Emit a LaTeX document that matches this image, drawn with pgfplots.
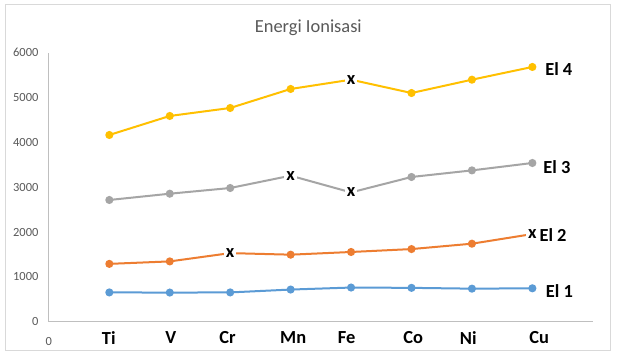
\documentclass[border=0pt]{standalone}
\usepackage{pgfplots}
\pgfplotsset{compat=1.18}
\usepackage{fontspec}
\setmainfont{Carlito}
\definecolor{c1}{HTML}{5B9BD5}
\definecolor{c2}{HTML}{ED7D31}
\definecolor{c3}{HTML}{A5A5A5}
\definecolor{c4}{HTML}{FFC000}
\definecolor{txtgray}{HTML}{595959}
\definecolor{axgray}{HTML}{BFBFBF}
\definecolor{bordergray}{HTML}{D9D9D9}
\newcommand{\bigbf}{\bfseries\fontsize{18.5}{22}\selectfont}
\begin{document}
\begin{tikzpicture}
\useasboundingbox (0,0) rectangle (617bp,-358bp);
\fill[white] (0,0) rectangle (617bp,-358bp);
\draw[bordergray, line width=1bp] (5.3bp,-4.7bp) rectangle (610bp,-350.7bp);
\node[anchor=base, text=txtgray, font=\fontsize{18.5}{22}\selectfont] at (308.3bp,-32.7bp) {Energi Ionisasi};
\begin{axis}[
  at={(48.9bp,-321.7bp)}, anchor=origin,
  scale only axis, width=543.9bp, height=269bp,
  xmin=0, xmax=9, ymin=0, ymax=6000,
  clip=false,
  axis x line=bottom, axis y line=left,
  axis line style={-, axgray, line width=1bp},
  major tick length=0pt,
  ytick={0,1000,2000,3000,4000,5000,6000},
  xtick={0}, xticklabels={0},
  /pgf/number format/assume math mode=true,
  /pgf/number format/1000 sep={},
  tick label style={text=txtgray, font=\fontsize{12.5}{14}\selectfont},
  yticklabel style={xshift=-7bp},
  xticklabel style={yshift=-12bp},
  extra x ticks={0.991,2.017,2.954,4.043,4.926,6.027,6.940,8.113},
  extra x tick labels={Ti,V,Cr,Mn,Fe,Co,Ni,Cu},
  extra x tick style={tick label style={text=black, font=\bigbf, yshift=6bp}},
  every axis plot/.append style={line width=2bp, mark=*, mark size=3bp},
]
\addplot[c1, mark options={fill=c1, draw=c1}] coordinates {(1,653) (2,650) (3,653) (4,717) (5,762) (6,755) (7,737) (8,745)};
\addplot[c2, mark options={fill=c2, draw=c2}] coordinates {(1,1290) (2,1345) (3,1530) (4,1495) (5,1555) (6,1620) (7,1740) (8,1955)};
\addplot[c3, mark options={fill=c3, draw=c3}] coordinates {(1,2715) (2,2855) (3,2982) (4,3257) (5,2884) (6,3228) (7,3375) (8,3540)};
\addplot[c4, mark options={fill=c4, draw=c4}] coordinates {(1,4165) (2,4589) (3,4767) (4,5191) (5,5398) (6,5101) (7,5398) (8,5682)};
\addplot[draw=none, mark=none, nodes near coords={x},
  every node near coord/.append style={anchor=center, fill=white, inner sep=2bp, text=black, font=\bigbf}]
  coordinates {(5,5398) (4,3257) (5,2884) (3,1530) (8,1955)};
\node[anchor=west, inner sep=0pt, font=\bigbf] at (axis cs:8.21,5632) {El 4};
\node[anchor=west, inner sep=0pt, font=\bigbf] at (axis cs:8.18,3457) {El 3};
\node[anchor=west, inner sep=0pt, font=\bigbf] at (axis cs:8.115,1929) {El 2};
\node[anchor=west, inner sep=0pt, font=\bigbf] at (axis cs:8.22,692) {El 1};
\end{axis}
\end{tikzpicture}
\end{document}
